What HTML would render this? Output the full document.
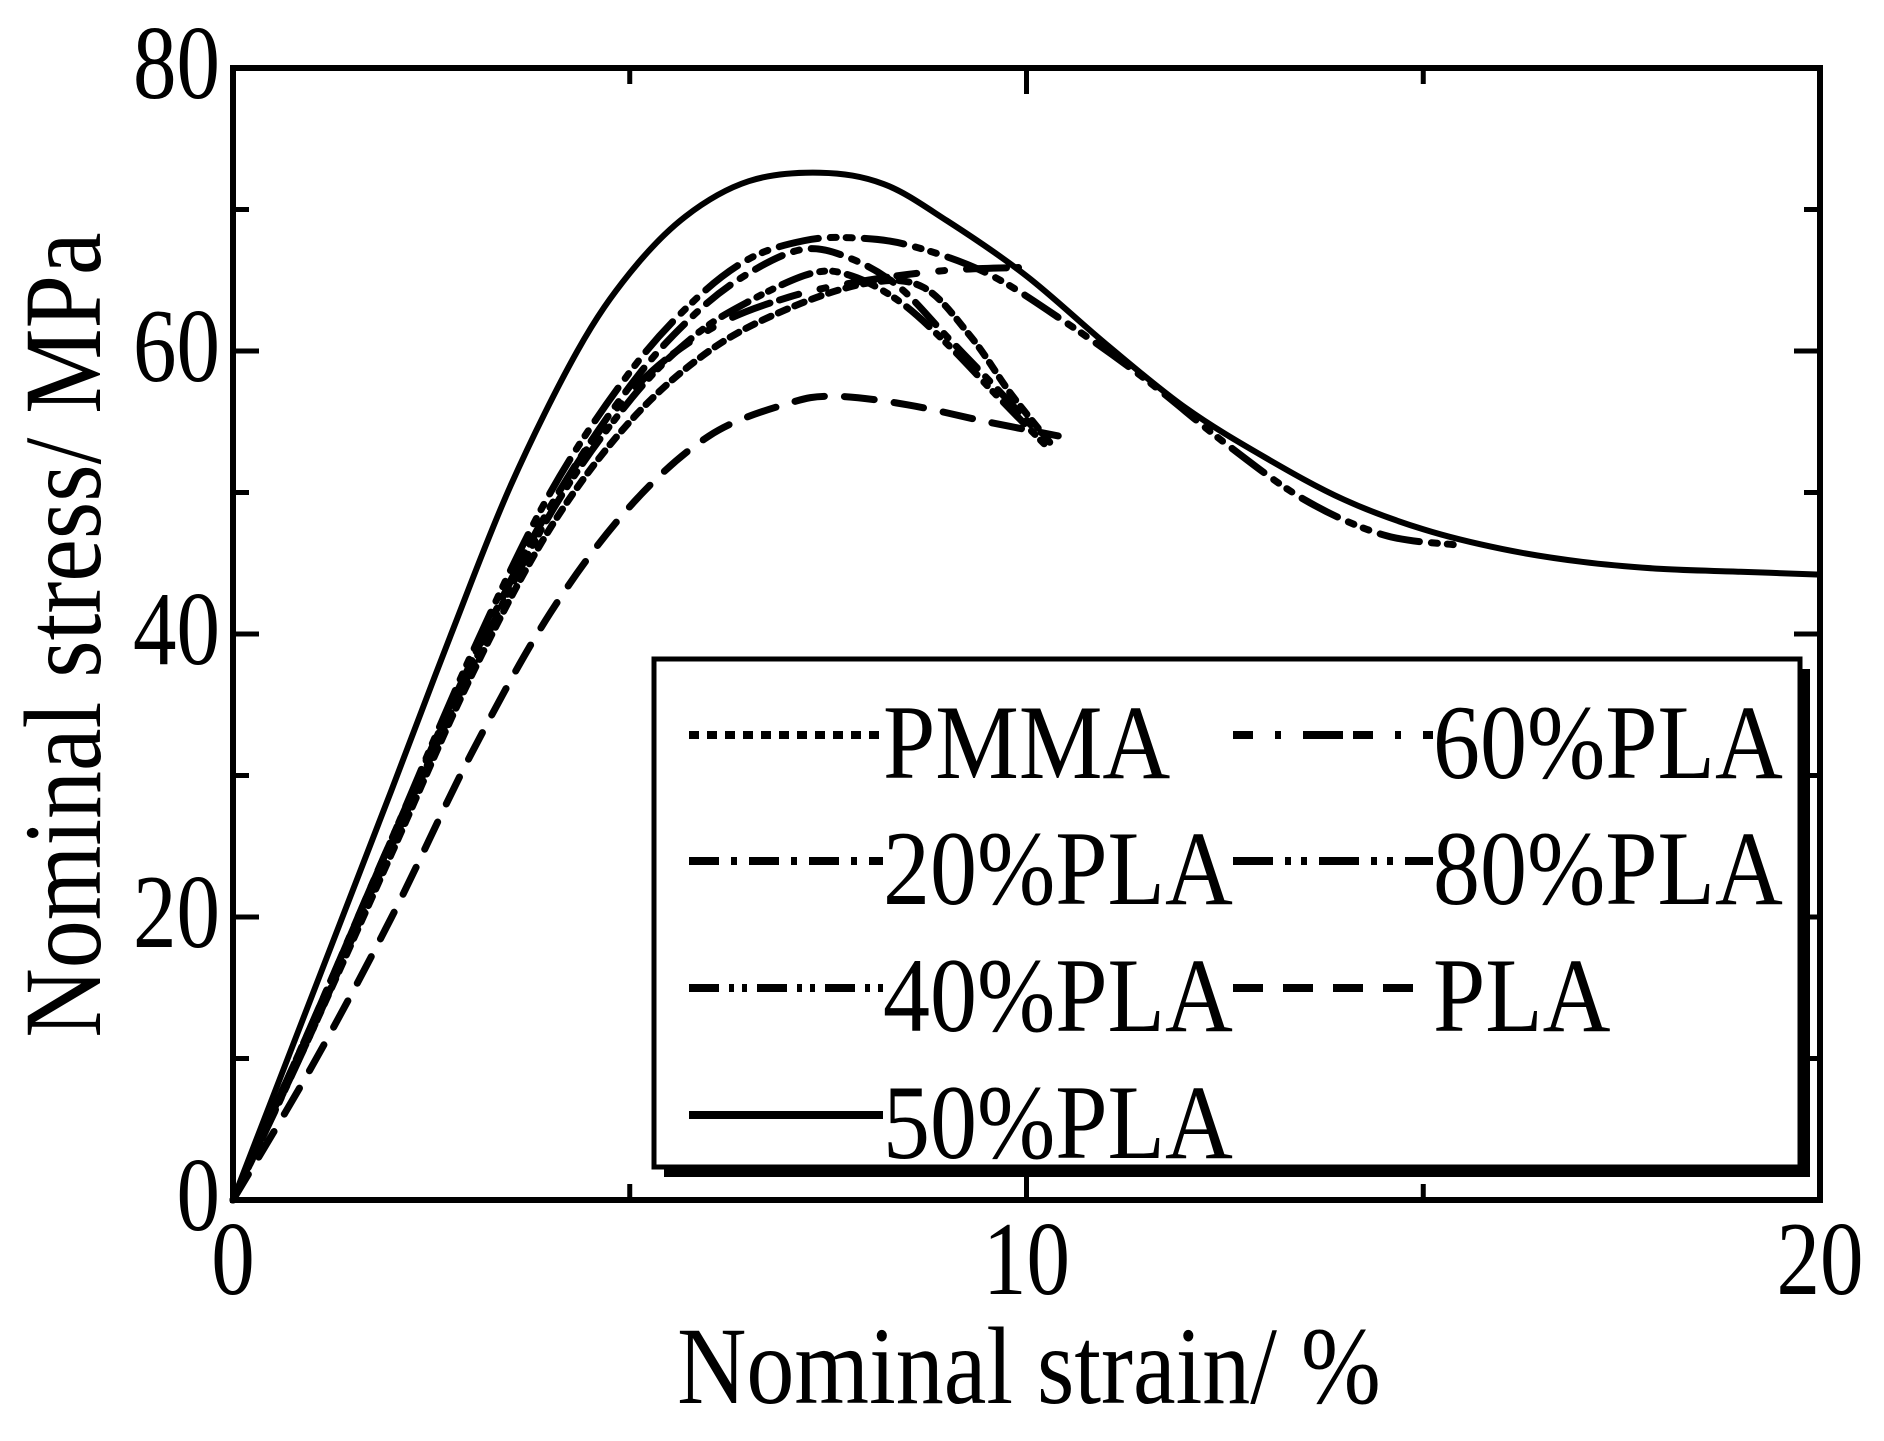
<!DOCTYPE html>
<html><head><meta charset="utf-8"><style>html,body{margin:0;padding:0;background:#fff}svg{display:block}</style></head>
<body>
<svg id="chart" width="1884" height="1441" viewBox="0 0 1884 1441" xmlns="http://www.w3.org/2000/svg" font-family="'Liberation Serif', serif">
<g id="marks"></g>
<g id="axes"></g>
<g id="legend"></g>
</svg>
<script>
const xTicks=[0,10,20];
const xMinor=[5,10,15];
const yTicks=[0,20,40,60,80];
const yMinor=[10,20,30,40,50,60,70];
const seriesNames=["PMMA","20%PLA","40%PLA","50%PLA","60%PLA","80%PLA","PLA"];
const pmmaX=[0,1,2,3,4,5,6,7,8,8.7,9.3,9.8,10.3];
const pmmaY=[0,12,24.5,37,47.5,55,60,63,64.8,64.5,61,57,53.5];
const pla20X=[0,1,2,3,4,5,5.8,6.5,7.2,7.8,8.4,9,9.6,10.1];
const pla20Y=[0,12.5,25.5,38,49,57.5,62.5,65.5,67.2,66.5,64.5,61,57.5,54.5];
const pla40X=[0,1,2,3,4,5,5.8,6.5,7.3,7.8,8.4,9,9.6,10.3];
const pla40Y=[0,12,25,37.5,48.5,56.5,61,63.5,65.5,65.3,63.5,60.5,57,53];
const pla50X=[0,1,2,2.75,3.5,4.34,5,5.7,6.5,7.4,8.2,9,10,11,12,13,14,15,16,17,18,19,20];
const pla50Y=[0,14.5,29,40,50.5,60,65.5,69.5,72,72.6,71.8,69.2,65.3,60.5,56,52.5,49.5,47.4,46,45.1,44.6,44.4,44.2];
const pla60X=[0,1,2,3,4,5,6,7,8,9,9.9];
const pla60Y=[0,12.5,25.5,38,49,57,61.5,63.8,65,65.7,65.9];
const pla80X=[0,1,2,3,4,5,5.8,6.5,7.2,7.8,8.5,9.5,10.5,11.5,12.5,13.5,14.5,15.4];
const pla80Y=[0,12.5,25.5,38.5,50,58.5,63.5,66.5,67.8,68,67.5,65.5,62,58,53.5,49.5,47,46.3];
const plaX=[0,1,2,3,4,5,6,7,7.6,8.5,9.5,10.4];
const plaY=[0,9.5,20,31.5,41.5,49,54,56.3,56.8,56.2,55,54];

const L=233,R=1820,T=68,B=1200;
const sx=v=>L+(v/20)*(R-L);
const sy=v=>B-(v/80)*(B-T);
const NS="http://www.w3.org/2000/svg";
function mk(tag,parent){const e=document.createElementNS(NS,tag);parent.appendChild(e);return e;}

const styles={"PMMA":"10 8","20%PLA":"30 12 6 12","40%PLA":"30 10 5 8 5 10","50%PLA":"","60%PLA":"20 22 6 22 40 10","80%PLA":"40 12 6 10 6 12","PLA":"30 20"};
const series=[["PMMA",pmmaX,pmmaY],["20%PLA",pla20X,pla20Y],["40%PLA",pla40X,pla40Y],["50%PLA",pla50X,pla50Y],["60%PLA",pla60X,pla60Y],["80%PLA",pla80X,pla80Y],["PLA",plaX,plaY]];

function smoothPath(xs,ys){
  const p=xs.map((x,i)=>[sx(x),sy(ys[i])]);
  let d="M"+p[0][0]+","+p[0][1];
  for(let i=0;i<p.length-1;i++){
    const p0=p[i-1]||p[i],p1=p[i],p2=p[i+1],p3=p[i+2]||p2;
    const c1=[p1[0]+(p2[0]-p0[0])/6,p1[1]+(p2[1]-p0[1])/6];
    const c2=[p2[0]-(p3[0]-p1[0])/6,p2[1]-(p3[1]-p1[1])/6];
    d+=" C"+c1+" "+c2+" "+p2;
  }
  return d;
}
const marks=document.getElementById("marks");
series.forEach(s=>{
  const path=mk("path",marks);
  
  
  path.setAttribute("d",smoothPath(s[1],s[2]));
  path.setAttribute("fill","none");path.setAttribute("stroke","#000");
  path.setAttribute("stroke-width",s[0]==="50%PLA"?"6":"7");
  path.setAttribute("stroke-linecap","round");
  if(styles[s[0]])path.setAttribute("stroke-dasharray",styles[s[0]]);
});

const axes=document.getElementById("axes");
const frame=mk("rect",axes);


frame.setAttribute("x",L);frame.setAttribute("y",T);frame.setAttribute("width",R-L);frame.setAttribute("height",B-T);
frame.setAttribute("fill","none");frame.setAttribute("stroke","#000");frame.setAttribute("stroke-width","6");
function line(x1,y1,x2,y2,name){const l=mk("line",axes);
  
  
  l.setAttribute("x1",x1);l.setAttribute("y1",y1);l.setAttribute("x2",x2);l.setAttribute("y2",y2);l.setAttribute("stroke","#000");l.setAttribute("stroke-width","5");}
yMinor.forEach(v=>{const len=(v%20===0)?26:16;line(L,sy(v),L+len,sy(v),'y-tick');line(R,sy(v),R-len,sy(v),'y-tick-right');});
xMinor.forEach(v=>{const len=(v%10===0)?26:16;line(sx(v),B,sx(v),B-len,'x-tick');line(sx(v),T,sx(v),T+len,'x-tick-top');});
function txt(parent,str,x,y,size,anchor,sY,name){
  const t=mk("text",parent);
  
  
  t.setAttribute("transform","translate("+x+","+y+") scale(1,"+sY+")");
  t.setAttribute("font-size",size);t.setAttribute("text-anchor",anchor);t.textContent=str;return t;}
yTicks.forEach(v=>txt(axes,String(v),220,sy(v)+30,87,"end",1.2,'y-tick-label'));
xTicks.forEach(v=>txt(axes,String(v),sx(v),1294,87,"middle",1.2,'x-tick-label'));
txt(axes,"Nominal strain/ %",1029,1403,96,"middle",1.15,'x-axis-title');
const yt=txt(axes,"Nominal stress/ MPa",0,0,96,"middle",1.15,'y-axis-title');
yt.setAttribute("transform","translate(100,635) rotate(-90) scale(1,1.15)");

const lg=document.getElementById("legend");
const sh=mk("rect",lg);


sh.setAttribute("x",664);sh.setAttribute("y",669);sh.setAttribute("width",1146);sh.setAttribute("height",508);sh.setAttribute("fill","#000");
const box=mk("rect",lg);


box.setAttribute("x",654);box.setAttribute("y",659);box.setAttribute("width",1146);box.setAttribute("height",508);
box.setAttribute("fill","#fff");box.setAttribute("stroke","#000");box.setAttribute("stroke-width","5");
const entries=[["PMMA",0,0],["20%PLA",0,1],["40%PLA",0,2],["50%PLA",0,3],["60%PLA",1,0],["80%PLA",1,1],["PLA",1,2]];
const rowY=[735,861,988,1115];
entries.forEach(e=>{
  const x1=e[1]?1233:689,x2=e[1]?1433:883,y=rowY[e[2]];
  const g=mk("g",lg);
  
  
  const l=mk("line",g);
  
  
  l.setAttribute("x1",x1);l.setAttribute("y1",y);l.setAttribute("x2",x2);l.setAttribute("y2",y);
  l.setAttribute("stroke","#000");l.setAttribute("stroke-width","8");
  if(styles[e[0]])l.setAttribute("stroke-dasharray",styles[e[0]]);
  txt(g,e[0],x2,y+43,94,"start",1.13,'legend-label');
});
</script>
</body></html>
